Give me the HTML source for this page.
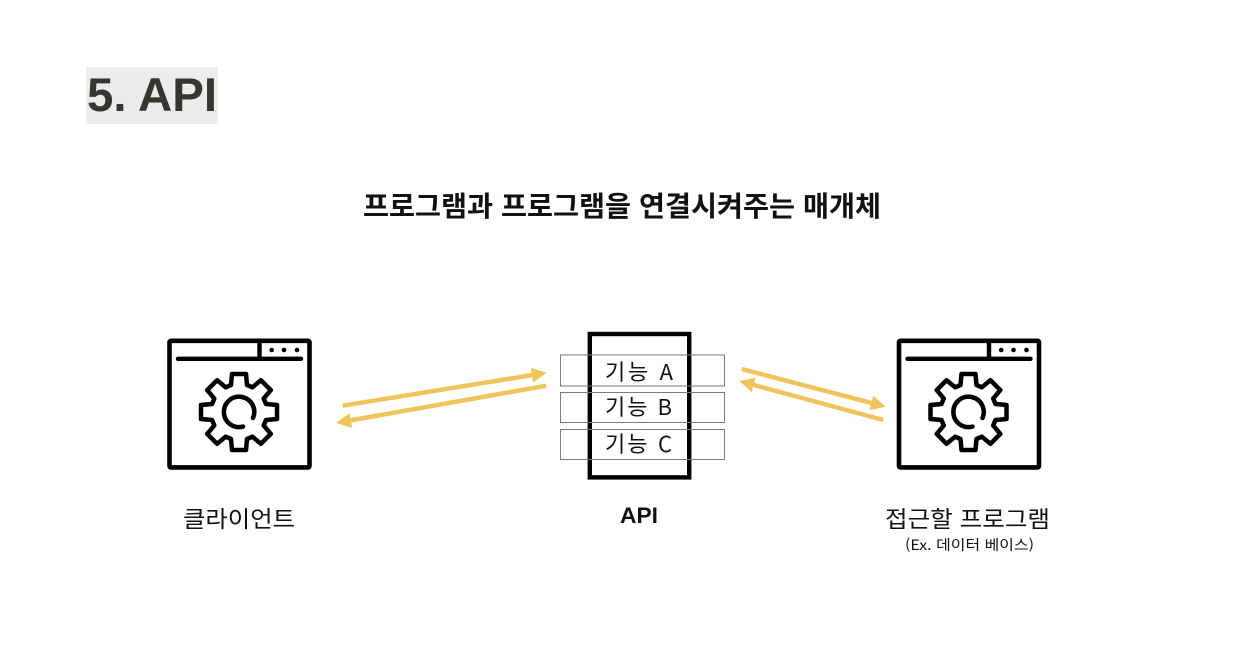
<!DOCTYPE html>
<html lang="ko">
<head>
<meta charset="utf-8">
<title>5. API</title>
<style>
html,body{margin:0;padding:0;background:#fff;width:1250px;height:646px;overflow:hidden}
svg{display:block}
text{font-family:"Liberation Sans","Noto Sans CJK KR",sans-serif}
.k{font-family:"Noto Sans CJK KR","Liberation Sans",sans-serif;fill:#111}
</style>
</head>
<body>
<svg width="1250" height="646" viewBox="0 0 1250 646" xmlns="http://www.w3.org/2000/svg">
<defs>
<marker id="ah" markerUnits="userSpaceOnUse" markerWidth="18" markerHeight="18" refX="7" refY="9" orient="auto">
<polygon points="0,1.500 15,9 0,16.500" fill="#f0c45c"/>
</marker>
<g id="win">
<rect x="169.500" y="340.800" width="140" height="126.600" rx="1.500" fill="none" stroke="#000" stroke-width="4.600"/>
<line x1="178" y1="358.800" x2="301" y2="358.800" stroke="#000" stroke-width="4.400" stroke-linecap="round"/>
<line x1="259.500" y1="340" x2="259.500" y2="358" stroke="#000" stroke-width="4.400"/>
<circle cx="271.700" cy="350" r="2.300" fill="#000"/>
<circle cx="284" cy="350" r="2.300" fill="#000"/>
<circle cx="297" cy="350" r="2.300" fill="#000"/>
<g transform="translate(239 412)" fill="none" stroke="#000" stroke-width="4.500" stroke-linejoin="round" stroke-linecap="round">
<path d="M-8,-27 L-7,-38 L7,-38 L8,-27 L13.400,-24.700 L21.900,-31.800 L31.800,-21.900 L24.700,-13.400 L27,-8 L38,-7 L38,7 L27,8 L24.700,13.400 L31.800,21.900 L21.900,31.800 L13.400,24.700 L8,27 L7,38 L-7,38 L-8,27 L-13.400,24.700 L-21.900,31.800 L-31.800,21.900 L-24.700,13.400 L-27,8 L-38,7 L-38,-7 L-27,-8 L-24.700,-13.400 L-31.800,-21.900 L-21.900,-31.800 L-13.400,-24.700 Z"/>
<path d="M14,6 A15.200 15.200 0 1 0 4,14.600"/>
</g>
</g>
</defs>

<rect x="86" y="67" width="132" height="57" fill="#ebeced"/>
<text x="87" y="111" font-size="47" font-weight="700" fill="#37352f" textLength="130" lengthAdjust="spacingAndGlyphs">5. API</text>

<text class="k" x="363" y="216" font-size="28" font-weight="700" textLength="518" lengthAdjust="spacingAndGlyphs">프로그램과 프로그램을 연결시켜주는 매개체</text>

<use href="#win"/>
<use href="#win" transform="translate(729.500 0)"/>

<g stroke="#f0c45c" stroke-width="4.500" fill="none">
<line x1="342.700" y1="405.700" x2="538.800" y2="374" marker-end="url(#ah)"/>
<line x1="546.300" y1="385.700" x2="343.900" y2="421.600" marker-end="url(#ah)"/>
<line x1="741.700" y1="369" x2="878" y2="404.700" marker-end="url(#ah)"/>
<line x1="883.300" y1="420" x2="747" y2="383.100" marker-end="url(#ah)"/>
</g>

<rect x="589.800" y="334" width="99.400" height="143.400" fill="none" stroke="#000" stroke-width="4.400"/>
<g fill="none" stroke="#7a7a7a" stroke-width="1">
<rect x="560.500" y="355" width="164" height="31"/>
<rect x="560.500" y="392.500" width="164" height="30"/>
<rect x="560.500" y="429.500" width="164" height="30"/>
</g>

<text class="k" x="605" y="380" font-size="22" textLength="68" lengthAdjust="spacing">기능 A</text>
<text class="k" x="605" y="415" font-size="22" textLength="67" lengthAdjust="spacing">기능 B</text>
<text class="k" x="605" y="452" font-size="22" textLength="67" lengthAdjust="spacing">기능 C</text>

<text x="620" y="523" font-size="22" font-weight="700" fill="#111" textLength="38" lengthAdjust="spacingAndGlyphs">API</text>
<text class="k" x="183" y="527" font-size="23" textLength="112" lengthAdjust="spacingAndGlyphs">클라이언트</text>
<text class="k" x="885" y="527" font-size="23" textLength="165" lengthAdjust="spacingAndGlyphs">접근할 프로그램</text>
<text class="k" x="905" y="550" font-size="14" textLength="129" lengthAdjust="spacingAndGlyphs">(Ex. 데이터 베이스)</text>
</svg>
</body>
</html>
